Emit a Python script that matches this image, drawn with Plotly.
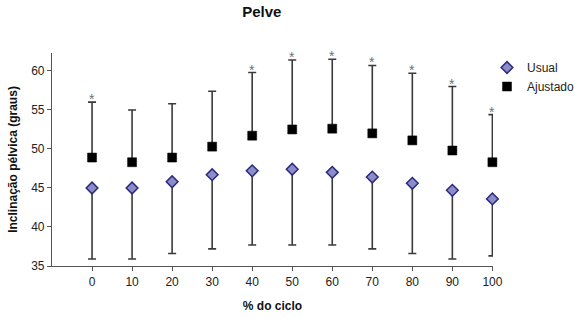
import plotly.graph_objects as go

ciclo = [0, 10, 20, 30, 40, 50, 60, 70, 80, 90, 100]
usual_mean = [45.0, 45.0, 45.8, 46.7, 47.2, 47.4, 47.0, 46.4, 45.6, 44.7, 43.6]
usual_sd = [9.1, 9.1, 9.2, 9.5, 9.5, 9.7, 9.3, 9.2, 9.0, 8.8, 7.3]
ajust_mean = [48.9, 48.3, 48.9, 50.3, 51.7, 52.5, 52.6, 52.0, 51.1, 49.8, 48.3]
ajust_sd = [7.1, 6.7, 6.9, 7.1, 8.1, 8.9, 8.9, 8.7, 8.6, 8.2, 6.1]
significativo = [True, False, False, False, True, True, True, True, True, True, True]
y_ticks = [35, 40, 45, 50, 55, 60]

FONT = "Arial, Liberation Sans, sans-serif"

fig = go.Figure()

fig.add_trace(go.Scatter(
    x=ciclo, y=usual_mean, mode="markers", name="Usual", cliponaxis=False,
    marker=dict(symbol="diamond", size=9, color="#8c8cc8",
                line=dict(color="#2a2a80", width=1.5)),
    error_y=dict(type="data", symmetric=False, array=[0] * len(ciclo),
                 arrayminus=usual_sd, color="#3a3a3a", thickness=1.6, width=4),
))

fig.add_trace(go.Scatter(
    x=ciclo, y=ajust_mean, mode="markers", name="Ajustado", cliponaxis=False,
    marker=dict(symbol="square", size=9, color="#000000",
                line=dict(color="#000000", width=0.5)),
    error_y=dict(type="data", symmetric=False, array=ajust_sd,
                 arrayminus=[0] * len(ciclo), color="#3a3a3a", thickness=1.6, width=4),
))

for c, m, d, s in zip(ciclo, ajust_mean, ajust_sd, significativo):
    if s:
        fig.add_annotation(x=c, y=m + d, text="*", showarrow=False,
                           xanchor="center", yanchor="middle", yshift=3,
                           font=dict(family=FONT, size=14, color="#707070"))

fig.update_layout(
    width=583, height=324,
    margin=dict(l=52, r=90, t=53, b=58, autoexpand=False),
    paper_bgcolor="white", plot_bgcolor="white",
    font=dict(family=FONT, size=12, color="#222222"),
    title=dict(text="<b>Pelve</b>", x=0.449, xanchor="center",
               y=1 - 12 / 324, yanchor="middle", yref="container",
               font=dict(family=FONT, size=15, color="#111111")),
    showlegend=True,
    legend=dict(x=487 / 583, y=1 - 53 / 324, xref="container", yref="container",
                xanchor="left", yanchor="top",
                bgcolor="rgba(0,0,0,0)", font=dict(size=12, color="#222222"),
                itemwidth=30, tracegroupgap=0),
    xaxis=dict(range=[-10, 100.15], tickvals=ciclo, ticktext=[str(c) for c in ciclo],
               showgrid=False, zeroline=False, showline=True, linecolor="#555555",
               linewidth=1.2, ticks="outside", ticklen=4, tickcolor="#555555",
               title=dict(text="<b>% do ciclo</b>", standoff=14,
                          font=dict(size=12, color="#111111")),
               automargin=False),
    yaxis=dict(range=[35, 62.3], tickvals=y_ticks, showgrid=False, zeroline=False,
               showline=True, linecolor="#555555", linewidth=1.2,
               ticks="outside", ticklen=4, tickcolor="#555555",
               title=dict(text="<b>Inclinação pélvica (graus)</b>", standoff=10,
                          font=dict(size=12, color="#111111")),
               automargin=False),
)

fig.write_html("out.html")
